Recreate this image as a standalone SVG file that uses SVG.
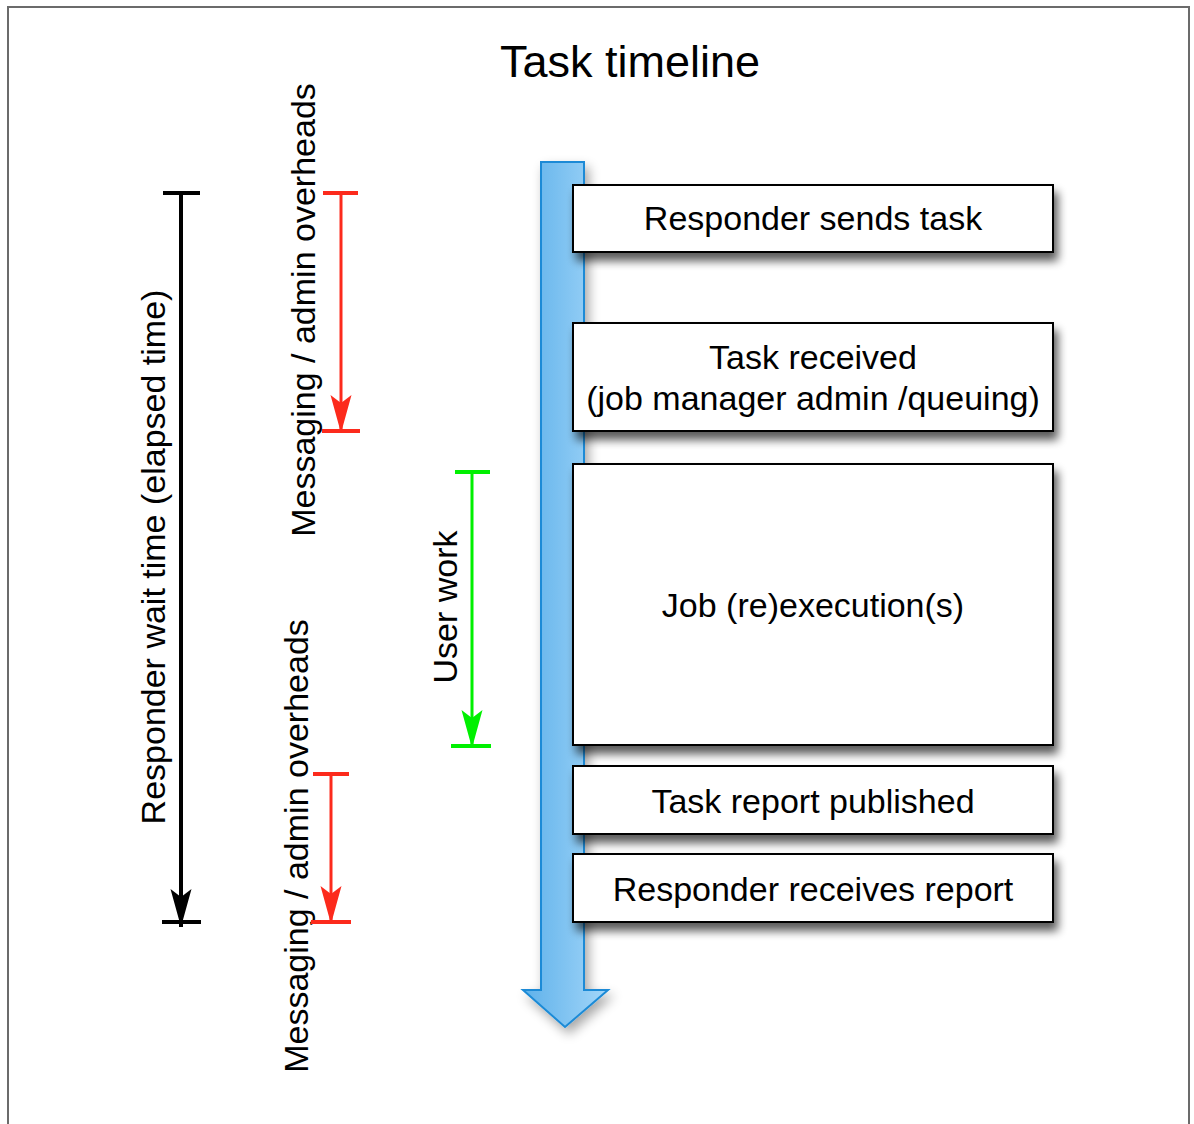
<svg xmlns="http://www.w3.org/2000/svg" width="1194" height="1124" viewBox="0 0 1194 1124">
  <style>
    text { font-family: "Liberation Sans", Arial, Helvetica, sans-serif; fill: #000; }
    .title { font-size: 45px; text-anchor: middle; }
    .lbl { font-size: 34px; text-anchor: middle; }
    .box { fill: #fff; stroke: #000; stroke-width: 2; }
    .bar { stroke-width: 4; fill: none; }
  </style>
  <defs>
    <linearGradient id="blueFill" x1="0" y1="0" x2="1" y2="0">
      <stop offset="0" stop-color="#5eb1ea"/>
      <stop offset="1" stop-color="#a3d6f9"/>
    </linearGradient>
    <filter id="dropShadow" x="-10%" y="-20%" width="130%" height="160%">
      <feGaussianBlur in="SourceAlpha" stdDeviation="5"/>
      <feOffset dx="4" dy="8" result="blur"/>
      <feComponentTransfer><feFuncA type="linear" slope="0.65"/></feComponentTransfer>
      <feMerge><feMergeNode/><feMergeNode in="SourceGraphic"/></feMerge>
    </filter>
    <filter id="softShadow" x="-50%" y="-5%" width="200%" height="110%">
      <feGaussianBlur in="SourceAlpha" stdDeviation="6"/>
      <feOffset dx="4" dy="6" result="blur"/>
      <feComponentTransfer><feFuncA type="linear" slope="0.35"/></feComponentTransfer>
      <feMerge><feMergeNode/><feMergeNode in="SourceGraphic"/></feMerge>
    </filter>
    <marker id="headBlack" markerUnits="userSpaceOnUse" markerWidth="44" markerHeight="26" viewBox="-40 -13 44 26" refX="0" refY="0" orient="auto">
      <path d="M0,0 L-38,-10.5 L-30,0 L-38,10.5 Z" fill="#000"/>
    </marker>
    <marker id="headRed" markerUnits="userSpaceOnUse" markerWidth="44" markerHeight="26" viewBox="-40 -13 44 26" refX="0" refY="0" orient="auto">
      <path d="M0,0 L-38,-10.5 L-30,0 L-38,10.5 Z" fill="#fc2a1c"/>
    </marker>
    <marker id="headGreen" markerUnits="userSpaceOnUse" markerWidth="44" markerHeight="26" viewBox="-40 -13 44 26" refX="0" refY="0" orient="auto">
      <path d="M0,0 L-38,-10.5 L-30,0 L-38,10.5 Z" fill="#00f000"/>
    </marker>
  </defs>

  <!-- page frame -->
  <path d="M8,1124 V7 H1189 V1124" fill="none" stroke="#6b6b6b" stroke-width="2"/>

  <text class="title" x="630" y="77">Task timeline</text>

  <!-- timeline arrow -->
  <g id="timeline">
    <path d="M541,162 H584 V990 H608 L565,1027 L523,990 H541 Z" fill="url(#blueFill)" stroke="#1a8ad6" stroke-width="2" filter="url(#softShadow)"/>
  </g>

  <!-- stages -->
  <g id="sends-task">
    <rect class="box" x="573" y="185" width="480" height="67" filter="url(#dropShadow)"/>
    <text class="lbl" x="813" y="230">Responder sends task</text>
  </g>
  <g id="task-received">
    <rect class="box" x="573" y="323" width="480" height="108" filter="url(#dropShadow)"/>
    <text class="lbl" x="813" y="369">Task received</text>
    <text class="lbl" x="813" y="410">(job manager admin /queuing)</text>
  </g>
  <g id="job-execution">
    <rect class="box" x="573" y="464" width="480" height="281" filter="url(#dropShadow)"/>
    <text class="lbl" x="813" y="617">Job (re)execution(s)</text>
  </g>
  <g id="report-published">
    <rect class="box" x="573" y="766" width="480" height="68" filter="url(#dropShadow)"/>
    <text class="lbl" x="813" y="813">Task report published</text>
  </g>
  <g id="receives-report">
    <rect class="box" x="573" y="854" width="480" height="68" filter="url(#dropShadow)"/>
    <text class="lbl" x="813" y="901">Responder receives report</text>
  </g>

  <!-- span labels -->
  <g id="wait-label">
    <text class="lbl" transform="translate(165,557) rotate(-90)">Responder wait time (elapsed time)</text>
  </g>
  <g id="overhead-label-1">
    <text class="lbl" transform="translate(315,310) rotate(-90)">Messaging / admin overheads</text>
  </g>
  <g id="overhead-label-2">
    <text class="lbl" transform="translate(308,846) rotate(-90)">Messaging / admin overheads</text>
  </g>
  <g id="user-work-label">
    <text class="lbl" transform="translate(457,607) rotate(-90)">User work</text>
  </g>

  <!-- duration spans -->
  <g id="connectors">
    <g stroke="#000">
      <line class="bar" x1="163" y1="193" x2="200" y2="193"/>
      <line class="bar" x1="162" y1="922" x2="201" y2="922"/>
      <line x1="181" y1="193" x2="181" y2="927" stroke-width="4" marker-end="url(#headBlack)"/>
    </g>
    <g stroke="#fc2a1c">
      <line class="bar" x1="323" y1="193" x2="358" y2="193"/>
      <line class="bar" x1="322" y1="431" x2="360" y2="431"/>
      <line x1="341" y1="193" x2="341" y2="433" stroke-width="3" marker-end="url(#headRed)"/>
      <line class="bar" x1="313" y1="774" x2="349" y2="774"/>
      <line class="bar" x1="311" y1="922" x2="351" y2="922"/>
      <line x1="331" y1="774" x2="331" y2="924" stroke-width="3" marker-end="url(#headRed)"/>
    </g>
    <g stroke="#00f000">
      <line class="bar" x1="455" y1="472" x2="490" y2="472"/>
      <line class="bar" x1="451" y1="746" x2="491" y2="746"/>
      <line x1="472" y1="472" x2="472" y2="748" stroke-width="3" marker-end="url(#headGreen)"/>
    </g>
  </g>
</svg>
